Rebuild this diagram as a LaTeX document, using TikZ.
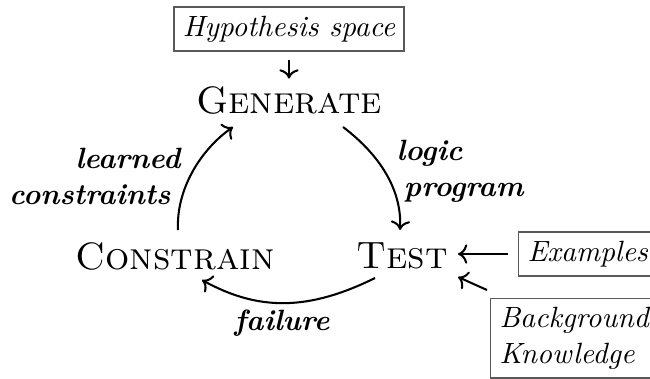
\documentclass[tikz,border=0pt]{standalone}
\usetikzlibrary{arrows.meta}
\begin{document}
\begin{tikzpicture}[x=0.341pt,y=-0.341pt,
  stage/.style={font=\fontsize{13}{15}\selectfont\scshape, inner sep=0pt},
  infobox/.style={draw=black!65, line width=0.5pt, font=\itshape, inner sep=3pt,
    align=left, minimum height=14.8pt},
  lbl/.style={font=\bfseries\itshape, inner sep=0pt},
  flow/.style={->, line width=0.7pt}]
\useasboundingbox (0,0) rectangle (650,378);
% stages of the cycle
\node[stage] (gen) at (289,100) {Generate};
\node[stage] (test) at (402,256) {Test};
\node[stage] (con) at (175,256) {Constrain};
% inputs
\node[infobox] (hyp) at (289,29) {Hypothesis space};
\node[infobox, anchor=west] (ex) at (518,254) {Examples};
\node[infobox, anchor=north west] (bk) at (490,298) {Background\\Knowledge};
% cycle arrows
\coordinate (g1) at (343,127);
\coordinate (t1) at (400,230);
\coordinate (t2) at (375,278);
\coordinate (c1) at (202,280);
\coordinate (c2) at (178,230);
\coordinate (g2) at (233,127);
\draw[flow] (g1) .. controls (380,155) and (402,190) .. (t1);
\draw[flow] (t2) .. controls (310,310) and (260,312) .. (c1);
\draw[flow] (c2) .. controls (176,190) and (200,150) .. (g2);
% input arrows
\draw[flow, shorten <=2.7pt, shorten >=2.4pt] (hyp) -- (gen);
\coordinate (exend) at (458,254);
\draw[flow, shorten <=3.4pt] (ex.west) -- (exend);
\coordinate (bkstart) at (487,290);
\coordinate (bkend) at (458,277);
\draw[flow] (bkstart) -- (bkend);
% arrow labels
\node[lbl, anchor=north east, align=right] (lc) at (181,148) {learned\\constraints\hspace*{3.4pt}};
\node[lbl, anchor=north west, align=left] (lp) at (396,140) {logic\\\hspace*{2.5pt}program};
\node[lbl] (fl) at (282,323) {failure};
\end{tikzpicture}
\end{document}
